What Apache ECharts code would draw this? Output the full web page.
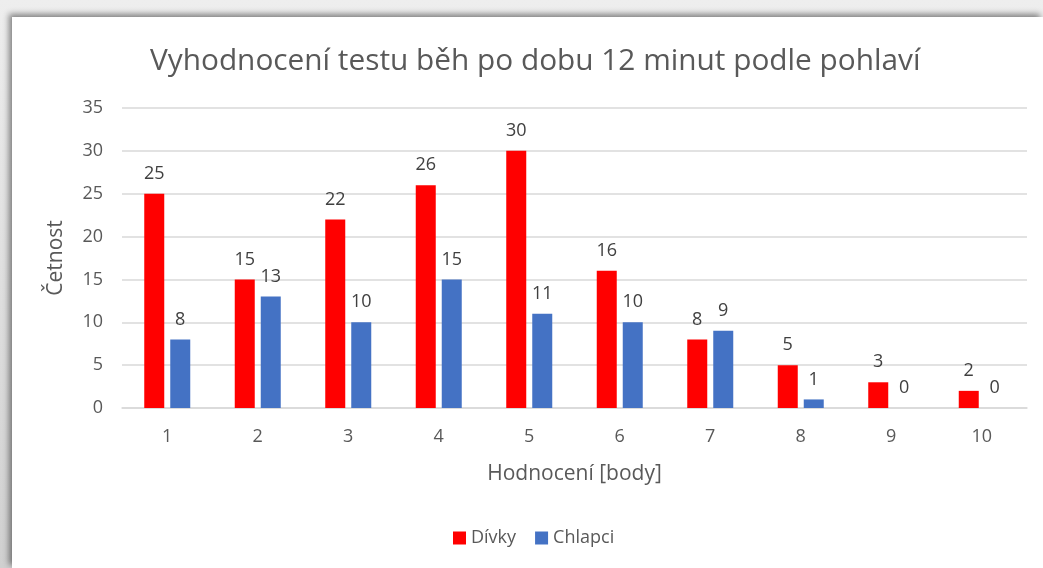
<!DOCTYPE html>
<html>
<head>
<meta charset="utf-8">
<script src="https://cdn.jsdelivr.net/npm/echarts@6/dist/echarts.min.js"></script>
<style>
  html, body { margin: 0; padding: 0; width: 1043px; height: 568px; overflow: hidden; }
  #frame { position: absolute; left: 0; top: 0; width: 1043px; height: 568px;
           background: linear-gradient(#eeeeee, #d0d0d0); }
  #sheet { position: absolute; left: 12px; top: 17px; right: 0; bottom: 0; background: #fff;
           box-shadow: -3px -3px 6px rgba(0,0,0,0.45); }
  #chart { position: absolute; left: 0; top: 0; width: 1043px; height: 568px; }
</style>
</head>
<body>
<div id="frame"></div>
<div id="sheet"></div>
<div id="chart"></div>
<script>
// hodnocení 1..10
const categories = ['1', '2', '3', '4', '5', '6', '7', '8', '9', '10'];
const divky = [25, 15, 22, 26, 30, 16, 8, 5, 3, 2];
const chlapci = [8, 13, 10, 15, 11, 10, 9, 1, 0, 0];

const font = '"Open Sans", "Noto Sans", sans-serif';
const textGray = '#595959';

const myChart = echarts.init(document.getElementById('chart'));

const labelStyle = {
    show: true,
    position: 'top',
    distance: 11,
    color: '#404040',
    fontSize: 18,
    fontFamily: font
};

const option = {
    backgroundColor: 'transparent',
    animation: false,
    title: {
        text: 'Vyhodnocení testu běh po dobu 12 minut podle pohlaví',
        left: 145,
        top: 42,
        textStyle: { color: textGray, fontSize: 29.8, fontWeight: 'normal', fontFamily: font }
    },
    legend: {
        bottom: 16,
        left: 448,
        itemWidth: 13,
        itemHeight: 13,
        itemGap: 19,
        icon: 'rect',
        textStyle: { color: textGray, fontSize: 18, fontFamily: font },
        data: ['Dívky', 'Chlapci']
    },
    grid: {
        left: 122,
        right: 16,
        top: 108,
        bottom: 160
    },
    xAxis: {
        type: 'category',
        data: categories,
        name: 'Hodnocení [body]',
        nameLocation: 'middle',
        nameGap: 56,
        nameTextStyle: { color: textGray, fontSize: 21, fontFamily: font },
        axisTick: { show: false },
        axisLine: { lineStyle: { color: '#d9d9d9', width: 1.5 } },
        axisLabel: { color: textGray, fontSize: 18, fontFamily: font, margin: 20 }
    },
    yAxis: {
        type: 'value',
        min: 0,
        max: 35,
        interval: 5,
        name: 'Četnost',
        nameLocation: 'middle',
        nameGap: 55,
        nameTextStyle: { color: textGray, fontSize: 21, fontFamily: font },
        axisLine: { show: false },
        axisTick: { show: false },
        axisLabel: { color: textGray, fontSize: 18, fontFamily: font, margin: 19 },
        splitLine: { lineStyle: { color: '#d9d9d9', width: 1.5 } }
    },
    series: [
        {
            name: 'Dívky',
            type: 'bar',
            data: divky,
            barWidth: 20,
            barGap: '30%',
            itemStyle: { color: '#ff0000' },
            label: labelStyle
        },
        {
            name: 'Chlapci',
            type: 'bar',
            data: chlapci,
            barWidth: 20,
            itemStyle: { color: '#4472c4' },
            label: labelStyle
        }
    ]
};

myChart.setOption(option);
</script>
</body>
</html>
